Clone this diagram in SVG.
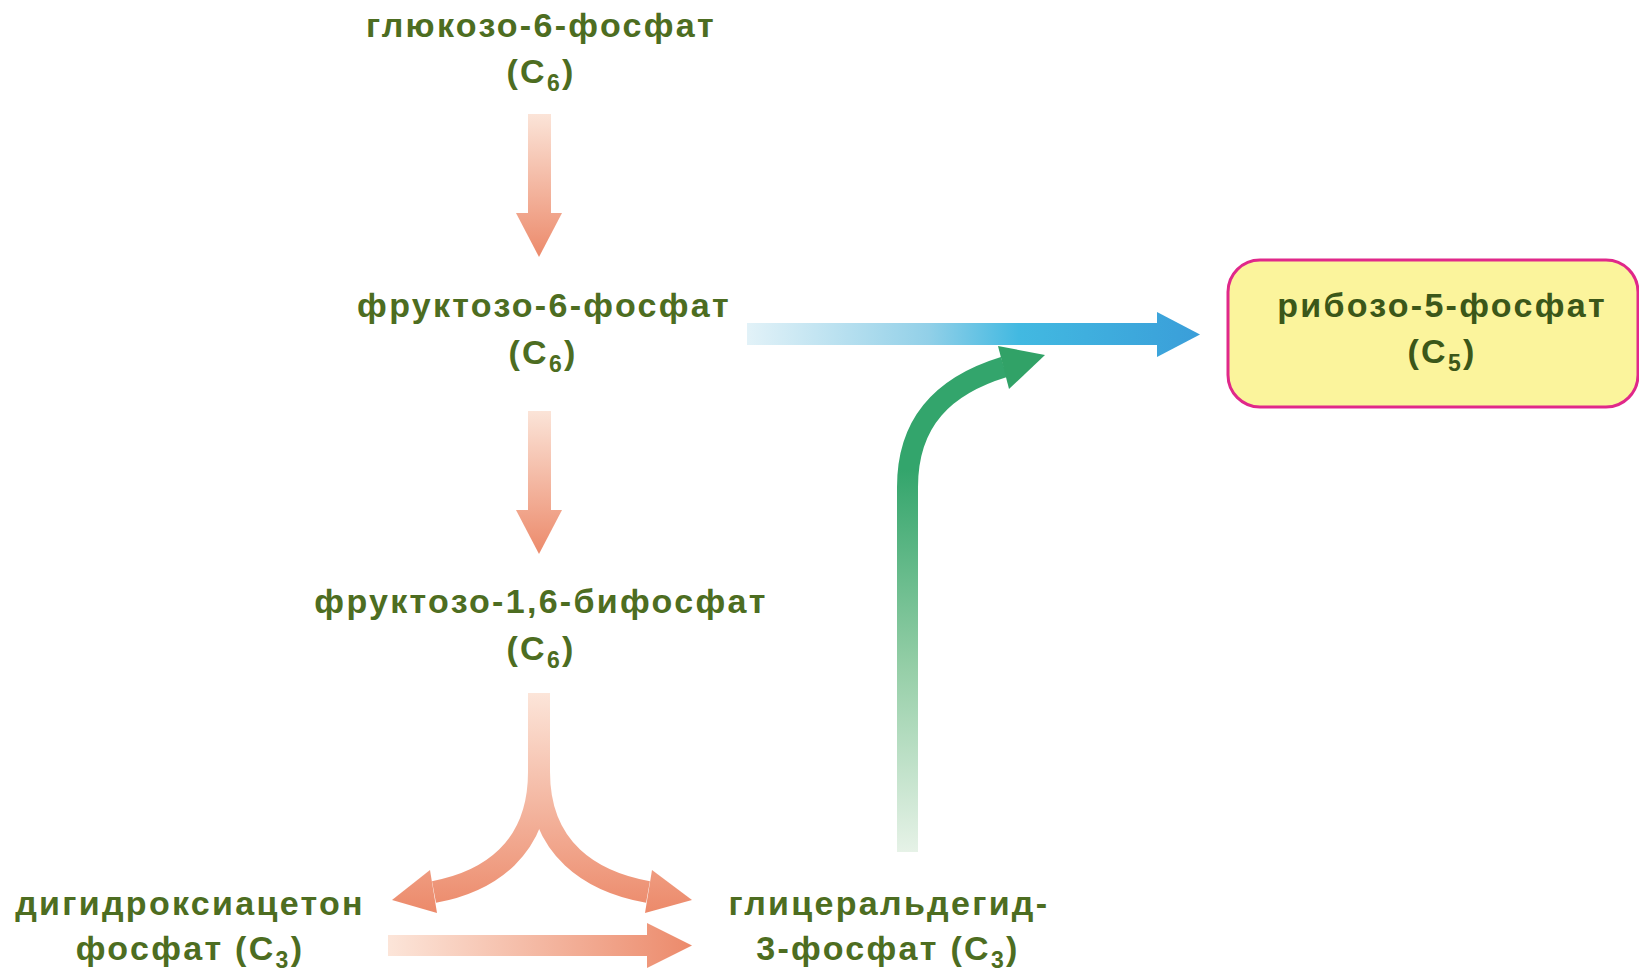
<svg xmlns="http://www.w3.org/2000/svg" width="1639" height="970" viewBox="0 0 1639 970">
<defs>
<style>
.t{font-family:"Liberation Sans",Arial,sans-serif;font-weight:bold;font-size:34px;fill:#4d6d21;text-anchor:middle;letter-spacing:2.3px}
.dk{fill:#3b5719}
.sub{font-size:23px}
</style>
<linearGradient id="gv1" gradientUnits="userSpaceOnUse" x1="0" y1="114" x2="0" y2="257">
<stop offset="0" stop-color="#fbe4d8"/><stop offset="1" stop-color="#ec8a6b"/>
</linearGradient>
<linearGradient id="gv2" gradientUnits="userSpaceOnUse" x1="0" y1="411" x2="0" y2="554">
<stop offset="0" stop-color="#fbe4d8"/><stop offset="1" stop-color="#ec8a6b"/>
</linearGradient>
<linearGradient id="gsplit" gradientUnits="userSpaceOnUse" x1="0" y1="693" x2="0" y2="912">
<stop offset="0" stop-color="#fce5d9"/><stop offset="1" stop-color="#ec8a6b"/>
</linearGradient>
<linearGradient id="gh" gradientUnits="userSpaceOnUse" x1="388" y1="0" x2="692" y2="0">
<stop offset="0" stop-color="#fce5d9"/><stop offset="1" stop-color="#ec8a6b"/>
</linearGradient>
<linearGradient id="gblue" gradientUnits="userSpaceOnUse" x1="747" y1="0" x2="1200" y2="0">
<stop offset="0" stop-color="#e2f2f8"/><stop offset="0.4" stop-color="#92d0e8"/><stop offset="0.6" stop-color="#42b9e1"/><stop offset="1" stop-color="#3a9ed9"/>
</linearGradient>
<linearGradient id="ggreen" gradientUnits="userSpaceOnUse" x1="0" y1="852" x2="0" y2="470">
<stop offset="0" stop-color="#e6f2e7"/><stop offset="0.5" stop-color="#92cda5"/><stop offset="1" stop-color="#33a56c"/>
</linearGradient>
</defs>
<rect width="1639" height="970" fill="#ffffff"/>

<g id="connectors">
<g id="a1"><rect x="528" y="114" width="23" height="100" fill="url(#gv1)"/><polygon points="516,213 562,213 539,257" fill="url(#gv1)"/></g>
<g id="a2"><rect x="528" y="411" width="23" height="100" fill="url(#gv2)"/><polygon points="516,510 562,510 539,554" fill="url(#gv2)"/></g>
<g id="a3">
<path d="M539 693 L539 772 C539 850 592 882 648 892" fill="none" stroke="url(#gsplit)" stroke-width="22"/>
<path d="M539 693 L539 772 C539 850 488 882 434 892" fill="none" stroke="url(#gsplit)" stroke-width="22"/>
<polygon points="652,870 645,913 692,900" fill="url(#gsplit)"/>
<polygon points="430,870 437,913 392,900" fill="url(#gsplit)"/>
</g>
<g id="a4"><rect x="388" y="935" width="260" height="21" fill="url(#gh)"/><polygon points="647,923 647,968 692,945.5" fill="url(#gh)"/></g>
<g id="a5"><rect x="747" y="323" width="411" height="22" fill="url(#gblue)"/><polygon points="1157,312 1157,357 1200,334.5" fill="url(#gblue)"/></g>
<g id="a6">
<path d="M907.5 852 L907.5 487 C907.5 420 945 385 1004 367" fill="none" stroke="url(#ggreen)" stroke-width="21"/>
<polygon points="998,346 1009,389 1045,355" fill="#31a267"/>
</g>
</g>

<g id="n-g6p"><text class="t" x="541" y="37">глюкозо-6-фосфат</text><text class="t" x="541" y="83">(C<tspan class="sub" dy="8">6</tspan><tspan dy="-8">)</tspan></text></g>
<g id="n-f6p"><text class="t" x="544" y="317">фруктозо-6-фосфат</text><text class="t" x="543" y="364">(C<tspan class="sub" dy="8">6</tspan><tspan dy="-8">)</tspan></text></g>
<g id="n-f16bp"><text class="t" x="541" y="613">фруктозо-1,6-бифосфат</text><text class="t" x="541" y="660">(C<tspan class="sub" dy="8">6</tspan><tspan dy="-8">)</tspan></text></g>
<g id="n-dhap"><text class="t" x="190" y="915">дигидроксиацетон</text><text class="t" x="190" y="960">фосфат (C<tspan class="sub" dy="8">3</tspan><tspan dy="-8">)</tspan></text></g>
<g id="n-g3p"><text class="t" x="889" y="915">глицеральдегид-</text><text class="t" x="888" y="960">3-фосфат (C<tspan class="sub" dy="8">3</tspan><tspan dy="-8">)</tspan></text></g>
<g id="n-r5p"><rect x="1228" y="260" width="410" height="147" rx="32" fill="#fbf49c" stroke="#e0288a" stroke-width="3"/><text class="t dk" x="1442" y="317">рибозо-5-фосфат</text><text class="t dk" x="1442" y="363">(C<tspan class="sub" dy="8">5</tspan><tspan dy="-8">)</tspan></text></g>
</svg>
